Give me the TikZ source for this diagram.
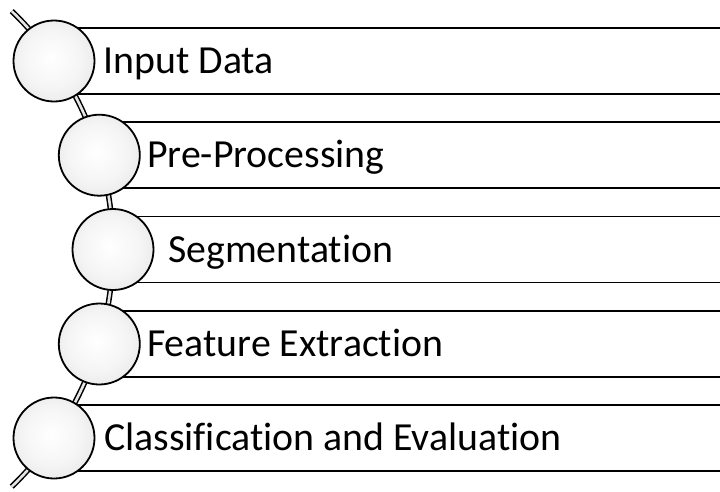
\documentclass[tikz,border=0pt]{standalone}
\usepackage{fontspec}
\setmainfont{Carlito}[Ligatures={NoCommon}]
% sphere-like fill for the step markers
\pgfdeclareradialshading{orb}{\pgfpoint{-2bp}{2bp}}{%
  color(0bp)=(white); color(18bp)=(white!96!black); color(30bp)=(white!91!black);
  color(39bp)=(white!80!black); color(45bp)=(white!62!black); color(50bp)=(white!35!black)}
\tikzset{
  orb/.style={circle, minimum size=81pt, inner sep=0pt, draw=black, line width=1.8pt, shading=orb},
  band/.style={draw=black, line width=1.9pt},
  steptext/.style={anchor=base west, inner sep=0pt, font=\fontsize{39.8}{47}\selectfont},
  spine/.style={draw=black, line width=1.5pt, double=white!90!black, double distance=2.6pt},
}
\begin{document}
\begin{tikzpicture}[x=1pt, y=1pt]
  \useasboundingbox (0,0) rectangle (720,-491);
  % curved spine through the markers
  \coordinate (spinetop) at (11.7,-11.1);
  \draw[spine] (spinetop) arc[start angle=46.1, end angle=-46.1, radius=330];
  % marker positions along the spine
  \coordinate (p1) at (54,-61);
  \coordinate (p2) at (99.3,-155.2);
  \coordinate (p3) at (113,-249.5);
  \coordinate (p4) at (99.3,-344);
  \coordinate (p5) at (54,-438);
  % list bands
  \foreach \i in {1,...,5}{
    \draw[band] ([yshift=33pt]p\i) -- ([yshift=33pt]p\i -| 725,0);
    \draw[band] ([yshift=-33pt]p\i) -- ([yshift=-33pt]p\i -| 725,0);
  }
  % markers
  \node[orb] (c1) at (p1) {};
  \node[orb] (c2) at (p2) {};
  \node[orb] (c3) at (p3) {};
  \node[orb] (c4) at (p4) {};
  \node[orb] (c5) at (p5) {};
  % step labels
  \node[steptext] (t1) at (103.5,-73.6) {Input Data};
  \node[steptext] (t2) at (147,-167.8) {Pre-Processing};
  \node[steptext] (t3) at (168,-262.1) {Segmentation};
  \node[steptext] (t4) at (147,-356.6) {Feature Extraction};
  \node[steptext] (t5) at (104,-450.6) {Classification and Evaluation};
\end{tikzpicture}
\end{document}
